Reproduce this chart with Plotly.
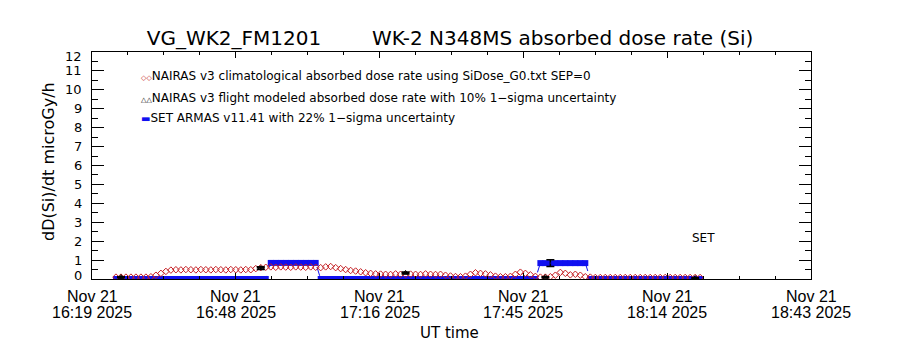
import plotly.graph_objects as go
import pandas as pd

# ---- data ----
axis_start = "2025-11-21 16:19:12"
axis_end = "2025-11-21 18:43:12"
tick_times = ["2025-11-21 16:19:12", "2025-11-21 16:48:00", "2025-11-21 17:16:48",
              "2025-11-21 17:45:36", "2025-11-21 18:14:24", "2025-11-21 18:43:12"]
tick_dates = ["Nov 21"] * 6
tick_clock = ["16:19 2025", "16:48 2025", "17:16 2025", "17:45 2025", "18:14 2025", "18:43 2025"]
y_ticks = list(range(0, 13))

# 1-minute cadence sample times, 16:24 .. 18:21
sample_times = pd.date_range("2025-11-21 16:24:00", "2025-11-21 18:21:00", freq="1min")

clim_values = [
    0.10, 0.10, 0.10, 0.10, 0.10, 0.10, 0.10, 0.12, 0.20, 0.30,
    0.40, 0.47, 0.49, 0.48, 0.50, 0.49, 0.48, 0.50, 0.49, 0.48,
    0.50, 0.49, 0.48, 0.50, 0.49, 0.48, 0.50, 0.49, 0.55, 0.60,
    0.62, 0.64, 0.62, 0.64, 0.63, 0.62, 0.64, 0.63, 0.62, 0.64,
    0.62, 0.60, 0.64, 0.66, 0.60, 0.55, 0.50, 0.45, 0.42, 0.38,
    0.33, 0.30, 0.27, 0.26, 0.25, 0.24, 0.27, 0.25, 0.24, 0.26,
    0.25, 0.24, 0.27, 0.25, 0.24, 0.25, 0.20, 0.16, 0.13, 0.12,
    0.15, 0.25, 0.33, 0.30, 0.27, 0.22, 0.15, 0.12, 0.12, 0.14,
    0.25, 0.36, 0.30, 0.22, 0.14, 0.10, 0.10, 0.12, 0.20, 0.35,
    0.30, 0.22, 0.25, 0.20, 0.12, 0.10, 0.08, 0.08, 0.08, 0.08,
    0.08, 0.08, 0.08, 0.08, 0.08, 0.08, 0.08, 0.08, 0.08, 0.08,
    0.08, 0.08, 0.08, 0.08, 0.08, 0.08, 0.08, 0.08,
]

set_values = (
    [0.0] * 31 + [0.85] * 10 + [0.0] * 44 + [0.84] * 10 + [0.0] * 23
)
set_err_time = ["2025-11-21 17:51:00"]
set_err_value = [0.84]
set_err_sigma = [0.18]

flight_times = ["2025-11-21 16:25:00", "2025-11-21 16:53:00", "2025-11-21 17:22:00",
                "2025-11-21 17:50:00", "2025-11-21 18:20:00"]
flight_values = [0.10, 0.58, 0.32, 0.10, 0.05]

legend_texts = [
    "NAIRAS v3 climatological absorbed dose rate using SiDose_G0.txt SEP=0",
    "NAIRAS v3 flight modeled absorbed dose rate with 10% 1\u2212sigma uncertainty",
    "SET ARMAS v11.41 with 22% 1\u2212sigma uncertainty",
]

# ---- figure ----
FONT = "DejaVu Sans"
RED = "#c41e22"
BLUE = "#1010f0"

fig = go.Figure()

fig.add_trace(go.Scatter(
    x=sample_times, y=set_values, mode="lines+markers",
    line=dict(color=BLUE, width=1, dash="dash"),
    marker=dict(symbol="square", size=6, color=BLUE, line=dict(width=0)),
    showlegend=False))
fig.add_trace(go.Scatter(
    x=set_err_time, y=set_err_value, mode="markers",
    marker=dict(size=1, color=BLUE),
    error_y=dict(type="data", array=set_err_sigma, color="black", thickness=1.5, width=4),
    showlegend=False))
fig.add_trace(go.Scatter(
    x=sample_times, y=clim_values, mode="markers",
    marker=dict(symbol="diamond-open", size=5, color=RED, line=dict(width=1, color=RED)),
    showlegend=False))
fig.add_trace(go.Scatter(
    x=flight_times, y=flight_values, mode="markers",
    marker=dict(symbol="triangle-up-open", size=5, color="black", line=dict(width=1, color="black")),
    error_y=dict(type="percent", value=10, color="black", thickness=2, width=4),
    showlegend=False))

L, R, T, B = 92, 89, 52, 71
ph = 350 - T - B
pw = 900 - L - R

def px_x(x):
    return (x - L) / pw

def px_y(y):
    return (350 - B - y) / ph

annotations = []

# legend rows
syms = [("\u25c7\u25c7", RED, 7), ("\u25b3\u25b3", "black", 7), ("\u25ac", BLUE, 10)]
rows_y = [76, 98, 118]
for (s, c, fs), txt, yy in zip(syms, legend_texts, rows_y):
    annotations.append(dict(
        x=px_x(139), y=px_y(yy), xref="paper", yref="paper", xanchor="left", yanchor="middle",
        text=f"<span style='color:{c};font-size:{fs}px'>{s}</span>{txt}",
        showarrow=False, font=dict(family=FONT, size=12, color="black")))

# x tick labels (two rows, tight spacing as in the reference)
for t, d, c in zip(tick_times, tick_dates, tick_clock):
    annotations.append(dict(x=t, y=px_y(296), xref="x", yref="paper", text=d, showarrow=False,
                            xanchor="center", yanchor="middle",
                            font=dict(family="Liberation Sans", size=16, color="black")))
    annotations.append(dict(x=t, y=px_y(312), xref="x", yref="paper", text=c, showarrow=False,
                            xanchor="center", yanchor="middle",
                            font=dict(family="Liberation Sans", size=16, color="black")))

# y tick labels (end labels pulled inward as in the reference)
for v in y_ticks:
    shift = 4 if v == 0 else (-4 if v == 12 else 0)
    annotations.append(dict(x=px_x(84), y=v, xref="paper", yref="y", text=str(v), showarrow=False,
                            xanchor="right", yanchor="middle", yshift=shift,
                            font=dict(family=FONT, size=13, color="black")))

annotations.append(dict(x=px_x(703), y=px_y(238), xref="paper", yref="paper",
                        text="SET", showarrow=False, font=dict(family=FONT, size=12, color="black"),
                        xanchor="center", yanchor="middle"))
annotations.append(dict(x=px_x(449), y=px_y(333), xref="paper", yref="paper",
                        text="UT time", showarrow=False, font=dict(family=FONT, size=15, color="black"),
                        xanchor="center", yanchor="middle"))
annotations.append(dict(x=px_x(48), y=px_y(162), xref="paper", yref="paper",
                        text="dD(Si)/dt microGy/h", textangle=-90, showarrow=False,
                        font=dict(family=FONT, size=16, color="black"),
                        xanchor="center", yanchor="middle"))

fig.update_layout(
    width=900, height=350,
    margin=dict(l=L, r=R, t=T, b=B, autoexpand=False),
    paper_bgcolor="white", plot_bgcolor="white",
    font=dict(family=FONT, color="black"),
    title=dict(text="VG_WK2_FM1201" + "\u00a0" * 8 + "WK-2 N348MS absorbed dose rate (Si)",
               x=0.5, xref="container", xanchor="center",
               y=1 - 38 / 350, yref="container", yanchor="middle",
               font=dict(family=FONT, size=20, color="black")),
    annotations=annotations,
    showlegend=False,
)

fig.update_xaxes(
    type="date", range=[axis_start, axis_end],
    tickmode="array", tickvals=tick_times, showticklabels=False,
    ticks="inside", ticklen=6, tickcolor="black", tickwidth=1,
    minor=dict(ticks="inside", ticklen=3, tickcolor="black", tickmode="linear",
               tick0=axis_start, dtick=432000),
    showline=True, linecolor="black", linewidth=1, mirror="ticks",
    showgrid=False, zeroline=False,
)
fig.update_yaxes(
    range=[0, 12], tickmode="linear", tick0=0, dtick=1, showticklabels=False,
    ticks="inside", ticklen=12, tickcolor="black", tickwidth=1,
    minor=dict(ticks="inside", ticklen=6, tickcolor="black", dtick=0.5),
    showline=True, linecolor="black", linewidth=1, mirror="ticks",
    showgrid=False, zeroline=False,
)

fig.write_html("out.html")
